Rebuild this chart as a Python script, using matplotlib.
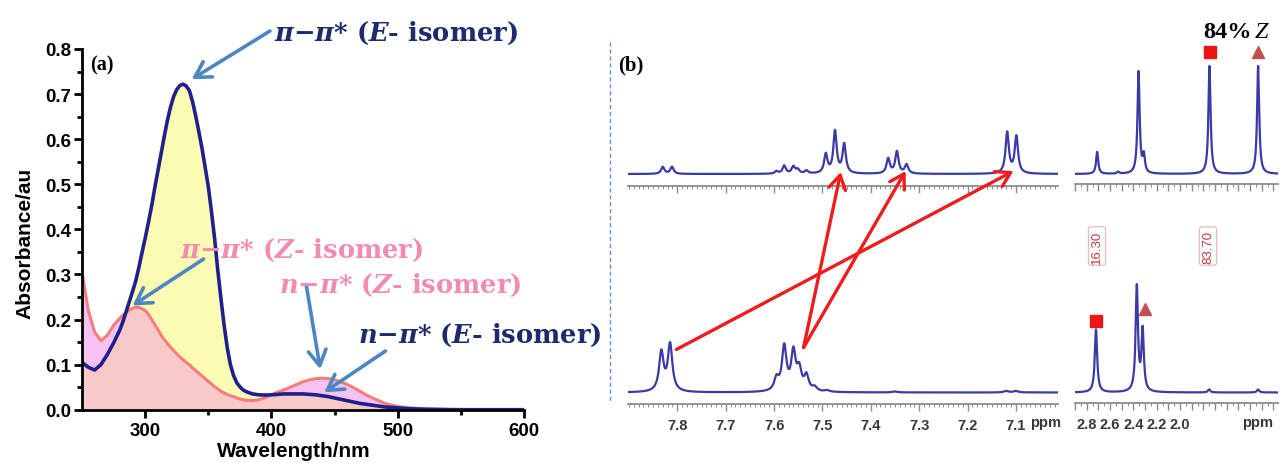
import numpy as np
import matplotlib.pyplot as plt
from matplotlib.patches import ConnectionPatch
from matplotlib.lines import Line2D

plt.rcParams['font.family'] = ['Liberation Sans', 'DejaVu Sans']
plt.rcParams['font.weight'] = 'bold'
plt.rcParams['mathtext.fontset'] = 'custom'
plt.rcParams['mathtext.rm'] = 'DejaVu Serif:bold'
plt.rcParams['mathtext.it'] = 'DejaVu Serif:italic:bold'
plt.rcParams['mathtext.bf'] = 'DejaVu Serif:bold'

# ---- (a) UV-vis spectra ----
wavelength = [250, 255, 260, 265, 270, 275, 280, 282.5, 285, 287.5, 290, 292.5, 295, 297.5,
              300, 302.5, 305, 307.5, 310, 312.5, 315, 317.5, 320, 322.5, 325, 327.5, 330,
              332.5, 335, 337.5, 340, 342.5, 345, 347.5, 350, 352.5, 355, 357.5, 360, 362.5,
              365, 367.5, 370, 372.5, 375, 377.5, 380, 385, 390, 395, 400, 405, 410, 415,
              420, 425, 430, 435, 440, 445, 450, 455, 460, 465, 470, 475, 480, 485, 490,
              495, 500, 510, 520, 540, 560, 600]
abs_E = [0.105, 0.094, 0.088, 0.100, 0.122, 0.148, 0.177, 0.196, 0.218, 0.240, 0.262, 0.285,
         0.315, 0.348, 0.380, 0.414, 0.450, 0.490, 0.528, 0.566, 0.604, 0.640, 0.670, 0.694,
         0.710, 0.719, 0.722, 0.718, 0.708, 0.684, 0.652, 0.617, 0.580, 0.538, 0.495, 0.440,
         0.380, 0.310, 0.247, 0.188, 0.138, 0.100, 0.076, 0.060, 0.051, 0.044, 0.040, 0.035,
         0.033, 0.0325, 0.033, 0.034, 0.035, 0.035, 0.035, 0.035, 0.034, 0.033, 0.031, 0.029,
         0.026, 0.023, 0.020, 0.017, 0.014, 0.012, 0.010, 0.008, 0.006, 0.005, 0.004, 0.002,
         0.001, 0.0, 0.0, 0.0]
abs_Z = [0.305, 0.220, 0.172, 0.153, 0.165, 0.187, 0.203, 0.210, 0.216, 0.221, 0.225, 0.227,
         0.227, 0.224, 0.220, 0.212, 0.201, 0.189, 0.178, 0.166, 0.156, 0.147, 0.139, 0.131,
         0.124, 0.117, 0.111, 0.105, 0.100, 0.093, 0.087, 0.081, 0.075, 0.069, 0.063, 0.057,
         0.051, 0.046, 0.041, 0.037, 0.034, 0.031, 0.029, 0.026, 0.024, 0.022, 0.021, 0.020,
         0.022, 0.027, 0.033, 0.039, 0.044, 0.050, 0.056, 0.062, 0.066, 0.069, 0.070, 0.069,
         0.066, 0.062, 0.056, 0.049, 0.041, 0.033, 0.026, 0.020, 0.014, 0.010, 0.007, 0.004,
         0.002, 0.001, 0.0, 0.0]

# ---- (b) 1H NMR peak lists (ppm, height above baseline) ----
top_arom_ppm = [7.830, 7.811, 7.595, 7.579, 7.560, 7.551, 7.533, 7.493, 7.474, 7.455,
                7.364, 7.346, 7.326, 7.118, 7.099]
top_arom_h = [7, 7, 2.5, 8, 7, 4, 3, 19, 42, 29, 15, 22, 9, 41, 37]
bot_arom_ppm = [7.833, 7.815, 7.595, 7.579, 7.560, 7.548, 7.533, 7.516, 7.49, 7.35, 7.12, 7.10]
bot_arom_h = [39, 47, 12, 44, 38, 20, 15, 4, 1.5, 1, 1.5, 1.5]
top_alk_ppm = [2.71, 2.53, 2.355, 2.31, 1.747, 1.33]
top_alk_h = [22, 2, 102, 17, 108, 108]
bot_alk_ppm = [2.72, 2.37, 2.32, 1.75, 1.33]
bot_alk_h = [63, 105, 61, 3, 3]

arom_labels = ['7.8', '7.7', '7.6', '7.5', '7.4', '7.3', '7.2', '7.1']
alk_labels = ['2.8', '2.6', '2.4', '2.2', '2.0']
integrals = ['16.30', '83.70']

W, H = 1281, 464
fig = plt.figure(figsize=(W / 100, H / 100), dpi=100)


def fx(x):
    return x / W


def fy(y):
    return 1 - y / H


def box(x0, y0, x1, y1):
    return [fx(x0), fy(y1), (x1 - x0) / W, (y1 - y0) / H]


# ------------------- panel (a) -------------------
ax = fig.add_axes(box(82, 50, 524, 410.7))
wl = np.array(wavelength, dtype=float)
e = np.array(abs_E)
z = np.array(abs_Z)
ax.fill_between(wl, 0, np.minimum(e, z), color='#f9c9c9', lw=0)
ax.fill_between(wl, z, e, where=e >= z, interpolate=True, color='#fbfbb3', lw=0)
ax.fill_between(wl, e, z, where=z >= e, interpolate=True, color='#f6c2f1', lw=0)
ax.plot(wl, z, color='#f47d7d', lw=2.2)
ax.plot(wl, e, color='#20208c', lw=2.6)
ax.set_xlim(250, 600)
ax.set_ylim(0, 0.8)
ax.set_xticks([300, 400, 500, 600])
ax.set_xticks([350, 450, 550], minor=True)
ax.set_yticks(np.arange(0, 0.81, 0.1))
ax.set_yticks(np.arange(0.05, 0.8, 0.1), minor=True)
ax.set_yticklabels([f'{v:.1f}' for v in np.arange(0, 0.81, 0.1)])
for s in ['top', 'right']:
    ax.spines[s].set_visible(False)
for s in ['left', 'bottom']:
    ax.spines[s].set_linewidth(2)
ax.tick_params(which='major', direction='out', length=6, width=2, labelsize=13.5, pad=3)
ax.tick_params(which='minor', direction='out', length=3.5, width=2)
ax.tick_params(axis='y', pad=2)
ax.patch.set_visible(False)

fig.text(fx(294), fy(452), 'Wavelength/nm', ha='center', va='center', fontsize=15)
fig.text(fx(25), fy(243), 'Absorbance/au', ha='center', va='center', fontsize=15, rotation=90)
fig.text(fx(90), fy(65), '(a)', ha='left', va='center', fontsize=14.5,
         family='Liberation Serif', weight='bold')

navy = '#1d2a6e'
pink = '#f28cb1'
arrow_blue = '#4d86c2'
notes = [
    (r'$\pi$−$\pi$* ($E$- isomer)', 274, 33, navy),
    (r'$\pi$−$\pi$* ($Z$- isomer)', 180, 250, pink),
    (r'$n$−$\pi$* ($Z$- isomer)', 279, 285, pink),
    (r'$n$−$\pi$* ($E$- isomer)', 358, 335, navy),
]
for txt, x, y, c in notes:
    fig.text(fx(x), fy(y), txt, ha='left', va='center', fontsize=18.5, color=c,
             family='DejaVu Serif', weight='bold')

blue_arrows = [((270, 32), (336.9, 0.733)),
               ((203.6, 260), (290.0, 0.231)),
               ((306.4, 287), (438.7, 0.090)),
               ((385.5, 352), (441.8, 0.0386))]
for (tx, ty), head in blue_arrows:
    cp = ConnectionPatch(xyA=(fx(tx), fy(ty)), coordsA=fig.transFigure,
                         xyB=head, coordsB=ax.transData,
                         arrowstyle='->,head_length=0.55,head_width=0.32',
                         mutation_scale=20, color=arrow_blue, lw=2.6,
                         shrinkA=0, shrinkB=0)
    fig.add_artist(cp)

# dashed separator
fig.add_artist(Line2D([fx(610), fx(610)], [fy(43), fy(403)], transform=fig.transFigure,
                      color='#6f8fc0', lw=1, ls=(0, (3, 2))))

# ------------------- panel (b) -------------------
spec_color = '#3b3ba6'
ruler_color = '#8c8c8c'


def spectrum(grid, ppm, height, width):
    y = np.zeros_like(grid)
    for p, h in zip(ppm, height):
        y += h * width ** 2 / ((grid - p) ** 2 + width ** 2)
    return y


def nmr_axes(x0, x1, top, baseline, ruler, xlim, ppm, height, width,
             major, minor, labels=None):
    a = fig.add_axes(box(x0, top, x1, ruler))
    grid = np.linspace(xlim[1], xlim[0], 5000)
    a.plot(grid, spectrum(grid, ppm, height, width), color=spec_color, lw=1.6)
    a.set_xlim(*xlim)
    a.set_ylim(-(ruler - baseline), baseline - top)
    a.yaxis.set_visible(False)
    for s in ['top', 'left', 'right']:
        a.spines[s].set_visible(False)
    a.spines['bottom'].set_color(ruler_color)
    a.spines['bottom'].set_linewidth(1.3)
    a.set_xticks(major)
    a.set_xticks(minor, minor=True)
    a.tick_params(which='major', direction='out', length=5, width=1, color=ruler_color,
                  labelsize=10.5, labelcolor='#383838', pad=5)
    a.tick_params(which='minor', direction='out', length=2.5, width=0.7, color=ruler_color)
    if labels is None:
        a.tick_params(labelbottom=False)
    else:
        a.set_xticklabels(labels)
    a.patch.set_visible(False)
    return a


arom_major = [7.8, 7.7, 7.6, 7.5, 7.4, 7.3, 7.2, 7.1]
arom_minor = np.round(np.arange(7.02, 7.90, 0.01), 2)
alk_major = np.round(np.arange(1.2, 2.95, 0.1), 1)
alk_minor = np.round(np.arange(1.25, 2.9, 0.1), 2)
alk_lab = [f'{m:.1f}' if f'{m:.1f}' in alk_labels else '' for m in alk_major]

ax_tl = nmr_axes(628, 1058, 40, 175, 186.7, (7.902, 7.013), top_arom_ppm, top_arom_h,
                 0.0041, arom_major, arom_minor)
ax_bl = nmr_axes(628, 1058, 258, 393.5, 405, (7.902, 7.013), bot_arom_ppm, bot_arom_h,
                 0.0056, arom_major, arom_minor, arom_labels)
ax_tr = nmr_axes(1075, 1278, 40, 175, 185, (2.90, 1.16), top_alk_ppm, top_alk_h,
                 0.011, alk_major, alk_minor)
ax_br = nmr_axes(1075, 1278, 258, 393.5, 404, (2.90, 1.16), bot_alk_ppm, bot_alk_h,
                 0.012, alk_major, alk_minor, alk_lab)

fig.text(fx(1046), fy(423.5), 'ppm', ha='center', va='center', fontsize=10.5, color='#383838')
fig.text(fx(1258), fy(423.5), 'ppm', ha='center', va='center', fontsize=10.5, color='#383838')

# peak markers
ax_tr.plot([top_alk_ppm[4]], [top_alk_h[4] + 14], 's', color='#ee1515', ms=8.5)
ax_tr.plot([top_alk_ppm[5]], [top_alk_h[5] + 14], '^', color='#c0504d', ms=9)
ax_br.plot([bot_alk_ppm[0]], [72], 's', color='#ee1515', ms=8.5)
ax_br.plot([2.297], [84], '^', color='#c0504d', ms=9)

for txt, x in zip(integrals, [1097, 1208]):
    fig.text(fx(x), fy(247), txt, rotation=90, ha='center', va='center', fontsize=9.5,
             color='#c43a3c', weight='normal',
             bbox=dict(boxstyle='round,pad=0.2', fc='none', ec='#e8b4b4', lw=0.8))

# red correlation arrows (bottom -> top)
red_arrows = [((7.802, 43), (7.105, 3)),
              ((7.539, 45), (7.462, 2)),
              ((7.539, 45), (7.328, 3))]
for tail, head in red_arrows:
    cp = ConnectionPatch(xyA=tail, coordsA=ax_bl.transData, xyB=head, coordsB=ax_tl.transData,
                         arrowstyle='->,head_length=0.5,head_width=0.3', mutation_scale=20,
                         color='#ee1c1c', lw=2.4, shrinkA=0, shrinkB=0)
    fig.add_artist(cp)

fig.text(fx(618), fy(65), '(b)', ha='left', va='center', fontsize=15,
         family='Liberation Serif', weight='bold')
fig.text(fx(1203), fy(33), '84%', ha='left', va='center', fontsize=17.5,
         family='Liberation Serif', weight='bold')
fig.text(fx(1255), fy(33), 'Z', ha='left', va='center', fontsize=17.5,
         family='Liberation Serif', style='italic', weight='normal')

fig.savefig('out.png', dpi=100)
